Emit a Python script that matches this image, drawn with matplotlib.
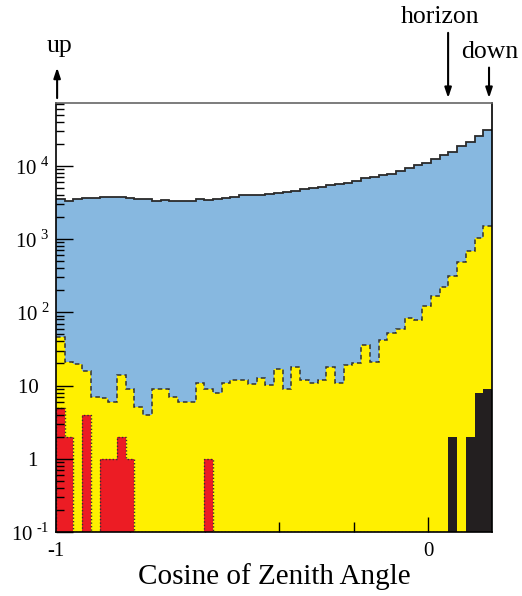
import numpy as np
import matplotlib
matplotlib.use("Agg")
import matplotlib.pyplot as plt
import matplotlib.ticker as mticker
import matplotlib.transforms as mtransforms

plt.rcParams['font.family'] = ['Liberation Serif', 'DejaVu Serif']
plt.rcParams['mathtext.fontset'] = 'custom'
plt.rcParams['mathtext.rm'] = 'Liberation Serif'

# histogram binning (cos zenith)
x_min, x_max, n_bins = -1.0, 0.172, 50
edges = np.linspace(x_min, x_max, n_bins + 1)
y_min, y_max = 0.1, 7.2e4

# all events (blue, solid outline)
total = [3520, 3350, 3560, 3680, 3680, 3800, 3800, 3750, 3680, 3520,
         3480, 3280, 3420, 3310, 3310, 3350, 3520, 3420, 3520, 3680,
         3700, 3930, 3970, 3970, 4170, 4310, 4450, 4590, 4780, 4980,
         5200, 5420, 5600, 5900, 6280, 6750, 6970, 7420, 7820, 8410,
         9330, 10100, 10800, 12300, 14100, 15400, 18500, 21100, 25500, 31200]

# after first cut (yellow, dashed outline)
cut1 = [45.3, 21, 19.4, 15.9, 6.9, 6.8, 6.0, 14, 8.9, 5.1,
        4.0, 8.9, 8.9, 6.9, 6.0, 6.0, 10.9, 9.0, 7.9, 10.9,
        11.9, 11.9, 10.4, 12.7, 10.1, 16.7, 9.0, 18, 11.9, 10.9,
        11.9, 18, 10.9, 19.1, 20, 35.6, 21, 41.6, 51.4, 58.3,
        83.9, 77.3, 122, 166, 222, 311, 493, 697, 1048, 1510]

# after second cut (red, dotted outline)
cut2 = [5, 2, 0, 4, 0, 1, 1, 2, 1, 0,
        0, 0, 0, 0, 0, 0, 0, 1, 0, 0,
        0, 0, 0, 0, 0, 0, 0, 0, 0, 0,
        0, 0, 0, 0, 0, 0, 0, 0, 0, 0,
        0, 0, 0, 0, 0, 0, 0, 0, 0, 0]

# downgoing selected (black)
down = [0] * 45 + [2, 0, 2, 8, 9]

x_ticks = [-1, 0]
x_ticklabels = ['-1', '0']
y_ticks = [0.1, 1, 10, 100, 1e3, 1e4]
y_ticklabels = [r'10$^{\;\text{-}1}$', '1  ', '10  ',
                r'10$^{\;2}$', r'10$^{\;3}$', r'10$^{\;4}$']

fig = plt.figure(figsize=(5.22, 5.96), dpi=100)
ax = fig.add_axes([56 / 522, 64 / 596, 436 / 522, 429 / 596])

blue = '#87b8e0'
yellow = '#fff000'
red = '#ec1c24'
black = '#231f20'

ax.stairs(total, edges, baseline=y_min, fill=True, color=blue, zorder=1)
ax.stairs(total, edges, baseline=None, color='#2a2a2a', lw=1.3, zorder=1.05)

ax.stairs(cut1, edges, baseline=y_min, fill=True, color=yellow, zorder=1.1)
ax.stairs(cut1, edges, baseline=None, color='#333333', lw=1.1,
          linestyle=(0, (3, 2)), zorder=1.15)

r = np.where(np.array(cut2) > 0, cut2, y_min)
ax.stairs(r, edges, baseline=y_min, fill=True, color=red, zorder=2)
ax.stairs(r, edges, baseline=y_min, color='#333333', lw=1.0,
          linestyle=(0, (1, 1.5)), zorder=2.05)

d = np.where(np.array(down) > 0, down, y_min)
ax.stairs(d, edges, baseline=y_min, fill=True, color=black, zorder=2.1)

ax.set_yscale('log')
ax.set_xlim(x_min, x_max)
ax.set_ylim(y_min, y_max)

ax.set_xticks(x_ticks)
ax.set_xticklabels(x_ticklabels, fontsize=15)
ax.xaxis.set_minor_locator(mticker.FixedLocator([-0.8, -0.6, -0.4, -0.2]))
ax.set_yticks(y_ticks)
ax.set_yticklabels(y_ticklabels, fontsize=15)
ax.yaxis.set_minor_locator(mticker.LogLocator(base=10, subs=np.arange(2, 10)))
ax.yaxis.set_minor_formatter(mticker.NullFormatter())

ax.tick_params(axis='x', which='major', direction='in', length=11, width=1, pad=7)
ax.tick_params(axis='x', which='minor', direction='in', length=7, width=1)
ax.tick_params(axis='y', which='major', direction='in', length=12, width=1, pad=5)
ax.tick_params(axis='y', which='minor', direction='in', length=6, width=1)
ax.tick_params(right=False, top=False)
ax.xaxis.set_zorder(1.5)
ax.yaxis.set_zorder(3)

for s in ax.spines.values():
    s.set_linewidth(1.2)
    s.set_zorder(3)
ax.spines['top'].set_color('#666666')

ax.set_xlabel('Cosine of Zenith Angle', fontsize=21, labelpad=2)

# direction arrows above the frame
trans = mtransforms.blended_transform_factory(ax.transData, ax.transAxes)
arrow_kw = dict(arrowstyle='-|>,head_length=0.6,head_width=0.2', color='black', lw=1.5)
ax.annotate('', xy=(-0.997, 1.089), xytext=(-0.997, 1.005), xycoords=trans,
            textcoords=trans, arrowprops=arrow_kw, annotation_clip=False)
ax.annotate('', xy=(0.054, 1.005), xytext=(0.054, 1.170), xycoords=trans,
            textcoords=trans, arrowprops=arrow_kw, annotation_clip=False)
ax.annotate('', xy=(0.164, 1.005), xytext=(0.164, 1.089), xycoords=trans,
            textcoords=trans, arrowprops=arrow_kw, annotation_clip=False)
ax.text(-0.99, 1.118, 'up', transform=trans, ha='center', va='baseline', fontsize=18.5)
ax.text(0.032, 1.187, 'horizon', transform=trans, ha='center', va='baseline', fontsize=18.5)
ax.text(0.165, 1.105, 'down', transform=trans, ha='center', va='baseline', fontsize=18.5)

fig.savefig('out.png', dpi=100)
